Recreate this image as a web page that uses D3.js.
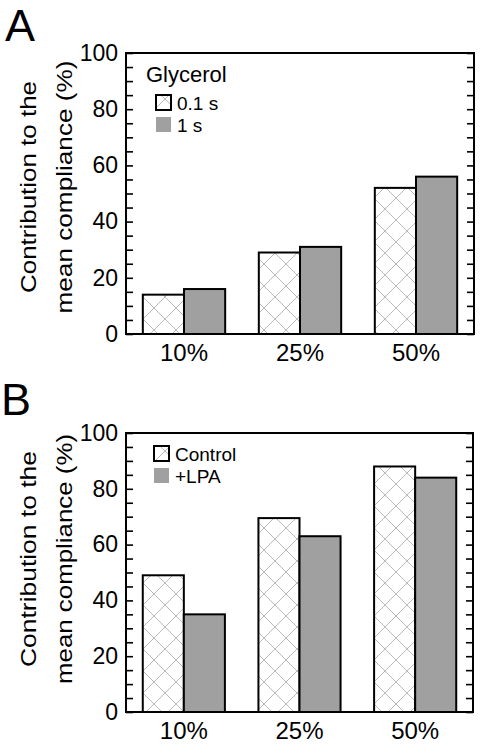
<!DOCTYPE html>
<html><head><meta charset="utf-8">
<script src="https://cdn.jsdelivr.net/npm/d3@7"></script>
<style>body{margin:0;background:#fff}svg{display:block}text{font-family:"Liberation Sans",Arial,Helvetica,sans-serif;fill:#000}</style>
</head><body>
<script>
const categories = ["10%", "25%", "50%"];
const seriesA = ["0.1 s", "1 s"];
const valuesA_01s = [14, 29, 52];
const valuesA_1s = [16, 31, 56];
const seriesB = ["Control", "+LPA"];
const valuesB_control = [49, 69.5, 88];
const valuesB_lpa = [35, 63, 84];
const yTickLabels = [0, 20, 40, 60, 80, 100];
const minorTicks = d3.range(0, 101, 5);
const legendTitleA = "Glycerol";
const yTitle = ["Contribution to the", "mean compliance (%)"];

const svg = d3.select("body").append("svg").attr("width", 481).attr("height", 748);
const defs = svg.append("defs");
const P = 22;
const pat = defs.append("pattern").attr("id", "hatch").attr("patternUnits", "userSpaceOnUse")
  .attr("width", P).attr("height", P);
pat.append("rect").attr("width", P).attr("height", P).attr("fill", "#fff");
pat.append("path").attr("d", `M0,0L${P},${P}M0,${P}L${P},0`).attr("stroke", "#a8a8a8").attr("stroke-width", 0.8);

function panel(cfg) {
  const g = svg.append("g");
  const x0 = d3.scaleBand().domain(categories).range([cfg.left, cfg.right]).paddingInner(0.29).paddingOuter(0.145);
  const x1 = d3.scaleBand().domain(cfg.series).range([0, x0.bandwidth()]);
  const y = d3.scaleLinear().domain([0, 100]).range([cfg.bottom, cfg.top]);
  const fills = ["url(#hatch)", "#a0a0a0"];
  const rows = categories.map((c, i) => ({ c, vals: [cfg.v0[i], cfg.v1[i]] }));

  rows.forEach(r => {
    r.vals.forEach((v, j) => {
      g.append("rect")
        .attr("x", x0(r.c) + x1(cfg.series[j]))
        .attr("y", y(v))
        .attr("width", x1.bandwidth())
        .attr("height", y(0) - y(v))
        .attr("fill", fills[j]).attr("stroke", "#000").attr("stroke-width", 2);
    });
  });

  const axL = d3.axisRight(y).tickValues(minorTicks).tickSize(7).tickFormat("");
  const axR = d3.axisLeft(y).tickValues(minorTicks).tickSize(7).tickFormat("");
  const gl = g.append("g").attr("transform", `translate(${cfg.left},0)`).call(axL);
  const gr = g.append("g").attr("transform", `translate(${cfg.right},0)`).call(axR);
  [gl, gr].forEach(a => { a.select(".domain").remove(); a.selectAll("line").attr("stroke", "#000").attr("stroke-width", 1.6); });

  const ylab = d3.axisLeft(y).tickValues(yTickLabels).tickSize(0).tickPadding(8);
  const gy = g.append("g").attr("transform", `translate(${cfg.left},0)`).call(ylab);
  gy.select(".domain").remove();
  gy.selectAll("text").attr("font-size", 23).attr("font-family", "Liberation Sans, Arial, sans-serif").attr("fill", "#000");

  const xax = d3.axisBottom(x0).tickSize(0).tickPadding(10);
  const gx = g.append("g").attr("transform", `translate(0,${cfg.bottom})`).call(xax);
  gx.select(".domain").remove();
  gx.selectAll("text").attr("font-size", 24).attr("font-family", "Liberation Sans, Arial, sans-serif").attr("fill", "#000");

  g.append("rect").attr("x", cfg.left).attr("y", cfg.top).attr("width", cfg.right - cfg.left)
    .attr("height", cfg.bottom - cfg.top).attr("fill", "none").attr("stroke", "#000").attr("stroke-width", 2);

  yTitle.forEach((t, i) => {
    g.append("text")
      .attr("transform", `translate(${[36, 72][i]},${cfg.titleCy}) rotate(-90)`)
      .attr("text-anchor", "middle").attr("font-size", 22)
      .attr("textLength", cfg.titleLen[i]).attr("lengthAdjust", "spacingAndGlyphs")
      .text(t);
  });

  g.append("text").attr("x", cfg.letterX).attr("y", cfg.letterY).attr("font-size", 45).text(cfg.letter);

  const lg = g.append("g");
  if (cfg.legendTitle) {
    lg.append("text").attr("x", cfg.legX - 10).attr("y", cfg.legY - 28).attr("font-size", 22).text(cfg.legendTitle);
  }
  cfg.series.forEach((s, j) => {
    const yy = cfg.legY + j * 22;
    lg.append("rect").attr("x", cfg.legX).attr("y", yy - 15).attr("width", 15).attr("height", 15)
      .attr("fill", fills[j]).attr("stroke", j === 0 ? "#000" : "none").attr("stroke-width", 2);
    lg.append("text").attr("x", cfg.legX + 21).attr("y", yy).attr("font-size", 19).text(s);
  });
}

panel({ left: 126, right: 474, top: 53, bottom: 334, series: seriesA, v0: valuesA_01s, v1: valuesA_1s,
  titleCy: 187, titleLen: [212, 253], letter: "A", letterX: 5, letterY: 41,
  legendTitle: legendTitleA, legX: 156, legY: 110 });
panel({ left: 126, right: 473, top: 433, bottom: 712, series: seriesB, v0: valuesB_control, v1: valuesB_lpa,
  titleCy: 559, titleLen: [216, 250], letter: "B", letterX: 1, letterY: 415,
  legendTitle: null, legX: 154, legY: 461 });
</script>
</body></html>
